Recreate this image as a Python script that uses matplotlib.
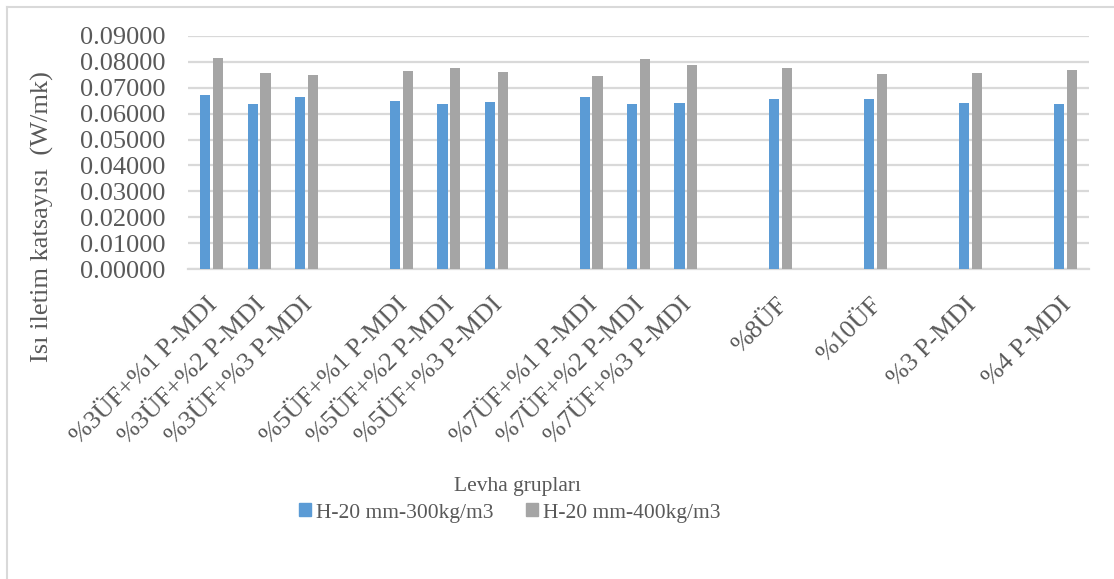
import matplotlib
matplotlib.use("Agg")
import matplotlib.pyplot as plt
import matplotlib.transforms as mtransforms
import numpy as np
from matplotlib.patches import Rectangle
from matplotlib.lines import Line2D

categories = ["%3ÜF+%1 P-MDI", "%3ÜF+%2 P-MDI", "%3ÜF+%3 P-MDI", "",
              "%5ÜF+%1 P-MDI", "%5ÜF+%2 P-MDI", "%5ÜF+%3 P-MDI", "",
              "%7ÜF+%1 P-MDI", "%7ÜF+%2 P-MDI", "%7ÜF+%3 P-MDI", "",
              "%8ÜF", "", "%10ÜF", "", "%3 P-MDI", "", "%4 P-MDI"]
s300 = [0.0670, 0.0638, 0.0664, None,
        0.0648, 0.0636, 0.0643, None,
        0.0665, 0.0637, 0.0642, None,
        0.0655, None, 0.0655, None, 0.0641, None, 0.0636]
s400 = [0.0814, 0.0756, 0.0748, None,
        0.0764, 0.0774, 0.0760, None,
        0.0743, 0.0809, 0.0786, None,
        0.0774, None, 0.0751, None, 0.0755, None, 0.0769]
series_names = ["H-20 mm-300kg/m3", "H-20 mm-400kg/m3"]
yticks = [0.0, 0.01, 0.02, 0.03, 0.04, 0.05, 0.06, 0.07, 0.08, 0.09]

plt.rcParams['font.family'] = ['Liberation Serif', 'DejaVu Serif']
txt = '#595959'
blue = '#5B9BD5'
gray = '#A5A5A5'

W, H = 1114, 579
fig = plt.figure(figsize=(W/100, H/100), dpi=100)
ax = fig.add_axes([188/W, 1-269.3/H, (1089-188)/W, (269.3-35.7)/H])

x = np.arange(len(categories))
bw = 0.215
off = 0.135
for i in range(len(categories)):
    if s300[i] is not None:
        ax.bar(x[i]-off, s300[i], bw, color=blue, zorder=3)
    if s400[i] is not None:
        ax.bar(x[i]+off, s400[i], bw, color=gray, zorder=3)

ax.set_xlim(-0.5, len(categories)-0.5)
ax.set_ylim(0, 0.09)
ax.set_yticks(yticks)
ax.set_yticklabels([f"{v:.5f}" for v in yticks], fontsize=19, color=txt)
ax.yaxis.grid(True, color='#D9D9D9', linewidth=1.6, zorder=0)
ax.set_axisbelow(True)
for s in ['top', 'right', 'left']:
    ax.spines[s].set_visible(False)
ax.spines['bottom'].set_color('#D9D9D9')
ax.spines['bottom'].set_linewidth(1.6)
ax.tick_params(axis='both', length=0)
ax.tick_params(axis='y', pad=16)
ax.set_xticks(x)
ax.set_xticklabels(categories, rotation=45, ha='right', rotation_mode='anchor',
                   fontsize=18.7, color=txt)
ax.tick_params(axis='x', pad=17.5)
shift = mtransforms.ScaledTranslation(-5/100, 0, fig.dpi_scale_trans)
for lab in ax.get_xticklabels():
    lab.set_transform(lab.get_transform() + shift)

fig.text(42/W, 1-217/H, "Isı iletim katsayısı  (W/mk)", rotation=90,
         ha='center', va='center', fontsize=19, color=txt)
fig.text(518/W, 1-487/H, "Levha grupları", ha='center', va='center',
         fontsize=15.5, color=txt)

handles = [Rectangle((0, 0), 1, 1, color=blue), Rectangle((0, 0), 1, 1, color=gray)]
fig.legend(handles, series_names, loc='center', bbox_to_anchor=(510/W, 1-513/H),
           ncol=2, frameon=False, fontsize=15.5, labelcolor=txt,
           handlelength=0.55, handleheight=0.55, handletextpad=0.25, columnspacing=1.5)

# chart border (left and top visible)
fig.add_artist(Line2D([7/W, 7/W], [0, 1-7/H], color='#D9D9D9', lw=1.5,
                      transform=fig.transFigure))
fig.add_artist(Line2D([7/W, 1], [1-7/H, 1-7/H], color='#D9D9D9', lw=1.5,
                      transform=fig.transFigure))

fig.savefig("out.png", dpi=100, facecolor='white')
